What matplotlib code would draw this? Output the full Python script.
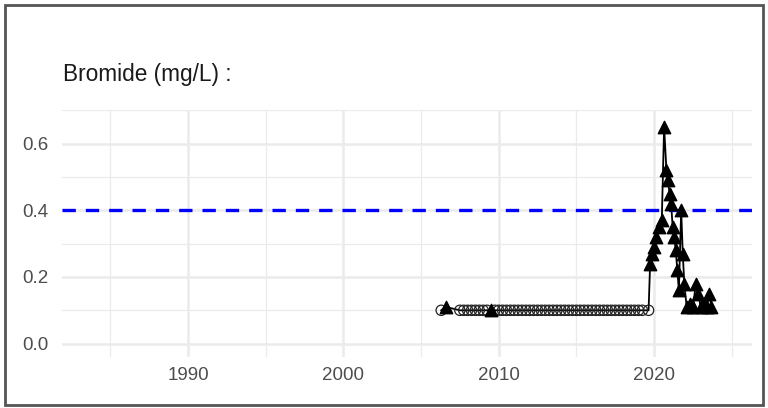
import numpy as np
import matplotlib
matplotlib.use('Agg')
import matplotlib.pyplot as plt
from matplotlib.patches import Rectangle
from matplotlib.ticker import MultipleLocator

plt.rcParams['font.family'] = ['Liberation Sans', 'DejaVu Sans']

# non-detects (plotted as open circles at the reporting limit)
nd_years = [2006.3, 2007.5, 2007.75, 2008.0, 2008.25, 2008.5, 2008.75, 2009.0, 2009.25,
            2009.75, 2010.0, 2010.25, 2010.5, 2010.75, 2011.0, 2011.25, 2011.5, 2011.75,
            2012.0, 2012.25, 2012.5, 2012.75, 2013.0, 2013.25, 2013.5, 2013.75, 2014.0,
            2014.25, 2014.5, 2014.75, 2015.0, 2015.25, 2015.5, 2015.75, 2016.0, 2016.25,
            2016.5, 2016.75, 2017.0, 2017.25, 2017.5, 2017.75, 2018.0, 2018.25, 2018.5,
            2018.75, 2019.0, 2019.25, 2019.65]
nd_vals = [0.10] * len(nd_years)

# detected results (filled triangles)
det_years = [2006.6, 2009.5, 2019.75, 2019.85, 2020.0, 2020.15, 2020.3, 2020.5, 2020.65,
             2020.8, 2020.9, 2021.0, 2021.1, 2021.2, 2021.3, 2021.4, 2021.5, 2021.6,
             2021.75, 2021.85, 2021.95, 2022.1, 2022.3, 2022.5, 2022.7, 2022.85, 2023.0,
             2023.2, 2023.4, 2023.55, 2023.7]
det_vals = [0.11, 0.10, 0.24, 0.27, 0.29, 0.32, 0.35, 0.37, 0.65,
            0.52, 0.49, 0.45, 0.42, 0.35, 0.32, 0.28, 0.22, 0.16,
            0.40, 0.27, 0.18, 0.11, 0.12, 0.11, 0.18, 0.15, 0.11,
            0.12, 0.11, 0.15, 0.11]

limit = 0.4
xticks = [1990, 2000, 2010, 2020]
yticks = [0.0, 0.2, 0.4, 0.6]

# one line through all samples in date order
all_years = np.array(nd_years + det_years)
all_vals = np.array(nd_vals + det_vals)
order = np.argsort(all_years)

fig = plt.figure(figsize=(7.68, 4.08), dpi=100)
ax = fig.add_axes([0.081, 0.125, 0.898, 0.605])

ax.plot(all_years[order], all_vals[order], color='black', lw=1.3, zorder=3)
ax.scatter(nd_years, nd_vals, s=55, facecolors='none', edgecolors='#222222', lw=0.9, zorder=4)
ax.scatter(det_years, det_vals, s=80, marker='^', color='black', zorder=4)
ax.axhline(limit, color='#0000FF', lw=2.4, ls=(0, (4, 3)), zorder=2)

ax.set_xlim(1981.9, 2026.3)
ax.set_ylim(-0.04, 0.70)
ax.set_xticks(xticks)
ax.set_yticks(yticks)
ax.xaxis.set_minor_locator(MultipleLocator(5))
ax.yaxis.set_minor_locator(MultipleLocator(0.1))
ax.grid(which='major', color='#EBEBEB', lw=1.8)
ax.grid(which='minor', color='#EBEBEB', lw=0.9)
ax.set_axisbelow(True)
for s in ax.spines.values():
    s.set_visible(False)
ax.tick_params(which='both', length=0, colors='#4D4D4D')
ax.tick_params(axis='x', pad=7)
ax.tick_params(axis='y', pad=10)
ax.set_yticklabels(['0.0', '0.2', '0.4', '0.6'])
for lab in ax.get_xticklabels() + ax.get_yticklabels():
    lab.set_fontfamily(['Liberation Sans Narrow', 'Liberation Sans'])
    lab.set_fontsize(13.5)

fig.text(0.082, 0.818, 'Bromide (mg/L) :', fontsize=16.3, color='#1A1A1A', va='center')

# frame around the whole figure
fig.patches.append(Rectangle((0.007, 0.008), 0.986, 0.98, transform=fig.transFigure,
                             fill=False, edgecolor='#555555', lw=2))

fig.savefig('out.png', dpi=100)
